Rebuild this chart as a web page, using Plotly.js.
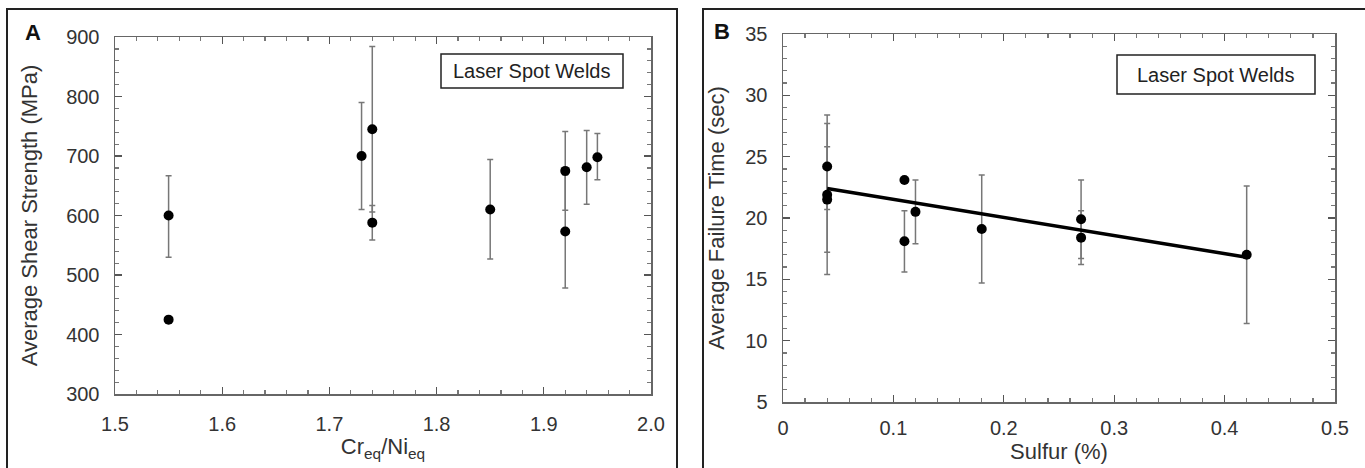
<!DOCTYPE html>
<html>
<head>
<meta charset="utf-8">
<script src="https://cdn.plot.ly/plotly-3.0.1.min.js"></script>
<style>html,body{margin:0;padding:0;background:#fff;}#chart{width:1365px;height:468px;}</style>
</head>
<body>
<div id="chart"></div>
<script>
// ---- Panel A data: shear strength vs Cr_eq/Ni_eq ----
const crNiRatio   = [1.55, 1.55, 1.73, 1.74, 1.74, 1.85, 1.92, 1.92, 1.94, 1.95];
const shearMPa    = [600, 425, 700, 745, 588, 610, 675, 573, 681, 698];
const shearErrUp  = [67, 0, 90, 139, 29, 84, 66, 95, 62, 40];
const shearErrDn  = [70, 0, 90, 139, 29, 83, 66, 95, 62, 38];

// ---- Panel B data: failure time vs sulfur ----
const sulfurPct   = [0.04, 0.04, 0.04, 0.11, 0.11, 0.12, 0.18, 0.27, 0.27, 0.42];
const failureSec  = [24.2, 21.5, 21.9, 23.1, 18.1, 20.5, 19.1, 19.9, 18.4, 17.0];
const failureErr  = [3.5, 4.3, 6.5, 0, 2.5, 2.6, 4.4, 3.2, 2.2, 5.6];
const fitSulfur   = [0.04, 0.42];
const fitFailure  = [22.4, 16.8];

const legendText  = 'Laser Spot Welds';
const W = 1365, H = 468;
const px = v => v / W;
const py = v => 1 - v / H;

const FAM = 'Liberation Sans, Arial, sans-serif';
const tickFont = {family: FAM, size: 20, color: '#333'};
const titleFont = {family: FAM, size: 22, color: '#333'};
const errStyle = {color: '#777', thickness: 1.5, width: 3};

const traces = [
  {x: crNiRatio, y: shearMPa, type: 'scatter', mode: 'markers', xaxis: 'x', yaxis: 'y',
   marker: {color: '#000', size: 10},
   error_y: Object.assign({type: 'data', symmetric: false, array: shearErrUp, arrayminus: shearErrDn, visible: true}, errStyle)},
  {x: sulfurPct, y: failureSec, type: 'scatter', mode: 'markers', xaxis: 'x2', yaxis: 'y2',
   marker: {color: '#000', size: 10},
   error_y: Object.assign({type: 'data', array: failureErr, visible: true}, errStyle)},
  {x: fitSulfur, y: fitFailure, type: 'scatter', mode: 'lines', xaxis: 'x2', yaxis: 'y2',
   line: {color: '#000', width: 3.5}}
];

const axBase = {
  showgrid: false, zeroline: false, showline: true, linecolor: '#666', linewidth: 1.5,
  mirror: 'allticks', ticks: 'inside', ticklen: 7, tickwidth: 1.2, tickcolor: '#555',
  tickfont: tickFont, fixedrange: true, automargin: false
};

const annBase = {xref: 'paper', yref: 'paper', showarrow: false, xanchor: 'center', yanchor: 'middle'};

const layout = {
  width: W, height: H, margin: {l: 0, r: 0, t: 0, b: 0},
  paper_bgcolor: '#fff', plot_bgcolor: '#fff', showlegend: false,
  xaxis: Object.assign({}, axBase, {
    domain: [px(115), px(651)], range: [1.5, 2.0], dtick: 0.1, tick0: 1.5, tickformat: '.1f',
    minor: {dtick: 0.02, ticklen: 4, tickcolor: '#777', ticks: 'inside'},
    ticklabelstandoff: 11,
    title: {text: 'Cr<sub>eq</sub>/Ni<sub>eq</sub>', font: titleFont, standoff: 3}
  }),
  yaxis: Object.assign({}, axBase, {
    domain: [py(394), py(37)], range: [300, 900], dtick: 100,
    minor: {dtick: 20, ticklen: 4, tickcolor: '#777', ticks: 'inside'},
    ticklabelstandoff: 10,
    title: {text: 'Average Shear Strength (MPa)', font: titleFont, standoff: 22}
  }),
  xaxis2: Object.assign({}, axBase, {
    anchor: 'y2', domain: [px(783), px(1335)], range: [0, 0.5], dtick: 0.1,
    minor: {dtick: 0.02, ticklen: 4, tickcolor: '#777', ticks: 'inside'},
    ticklabelstandoff: 7,
    title: {text: 'Sulfur (%)', font: titleFont, standoff: 6}
  }),
  yaxis2: Object.assign({}, axBase, {
    anchor: 'x2', domain: [py(402), py(34)], range: [5, 35], dtick: 5,
    minor: {dtick: 1, ticklen: 4, tickcolor: '#777', ticks: 'inside'},
    ticklabelstandoff: 10,
    title: {text: 'Average Failure Time (sec)', font: titleFont, standoff: 14}
  }),
  shapes: [
    {type: 'rect', xref: 'paper', yref: 'paper', x0: px(7), x1: px(677), y0: py(490), y1: py(9),
     line: {color: '#222', width: 2}},
    {type: 'rect', xref: 'paper', yref: 'paper', x0: px(703), x1: px(1385), y0: py(490), y1: py(9),
     line: {color: '#222', width: 2}},
    {type: 'rect', xref: 'paper', yref: 'paper', x0: px(441), x1: px(623), y0: py(88), y1: py(54),
     line: {color: '#222', width: 1.5}, fillcolor: '#fff'},
    {type: 'rect', xref: 'paper', yref: 'paper', x0: px(1117), x1: px(1315), y0: py(94), y1: py(55),
     line: {color: '#222', width: 1.5}, fillcolor: '#fff'}
  ],
  annotations: [
    Object.assign({}, annBase, {text: '<b>A</b>', x: px(33), y: py(33),
     font: {family: FAM, size: 22, color: '#111'}}),
    Object.assign({}, annBase, {text: '<b>B</b>', x: px(722), y: py(32),
     font: {family: FAM, size: 22, color: '#111'}}),
    Object.assign({}, annBase, {text: legendText, x: px(532), y: py(71),
     font: {family: FAM, size: 20, color: '#222'}}),
    Object.assign({}, annBase, {text: legendText, x: px(1216), y: py(75),
     font: {family: FAM, size: 20, color: '#222'}})
  ]
};

Plotly.newPlot('chart', traces, layout, {staticPlot: true, displayModeBar: false});
</script>
</body>
</html>
